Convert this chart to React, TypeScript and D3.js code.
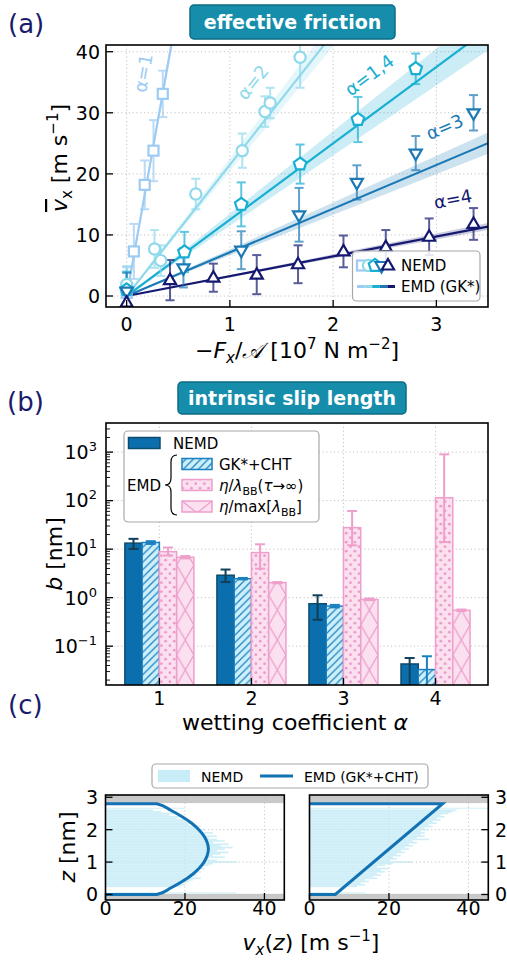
import React from 'react';
import * as d3 from 'd3';

// ---------------- Panel (a) data ----------------
const seriesNames = ['α=1', 'α=2', 'α=1,4', 'α=3', 'α=4'];
const seriesColors = ['#9dcbf3', '#8fd9eb', '#19afd3', '#1b79b5', '#141870'];
const seriesMarkers = ['square', 'circle', 'pentagon', 'tridown', 'triup'];
const emdSlopes = [95, 21.5, 12.5, 7.15, 3.25];
const emdBands = [0.03, 0.05, 0.08, 0.07, 0.05];
const labelAtX = [0.158, 1.22, 2.35, 3.08, 3.16];
const labelAtY = [36.5, 35.0, 36.2, 27.7, 15.9];

const a1X = [0, 0.07, 0.175, 0.26, 0.35];
const a1Y = [0.5, 7.3, 18.2, 23.8, 33.1];
const a1E = [4.2, 4.5, 4.0, 5.0, 3.8];
const a2X = [0, 0.27, 0.33, 0.67, 1.12, 1.34, 1.39, 1.68];
const a2Y = [1.9, 7.7, 5.8, 16.7, 23.8, 30.2, 31.6, 39.1];
const a2E = [3.0, 3.1, 2.5, 2.5, 2.8, 2.5, 2.5, 5.0];
const a14X = [0, 0.56, 1.11, 1.68, 2.24, 2.8];
const a14Y = [1.0, 7.2, 15.0, 21.6, 28.9, 37.2];
const a14E = [3.0, 3.3, 3.6, 3.2, 3.7, 2.5];
const a3X = [0, 0.55, 1.11, 1.67, 2.23, 2.8, 3.36];
const a3Y = [0.8, 4.6, 7.5, 13.3, 18.6, 23.4, 30.0];
const a3E = [3.0, 3.2, 3.1, 4.4, 2.8, 2.8, 2.9];
const a4X = [0, 0.42, 0.84, 1.26, 1.66, 2.1, 2.51, 2.93, 3.36];
const a4Y = [-1.1, 2.6, 3.0, 3.5, 5.2, 7.3, 8.0, 9.7, 11.8];
const a4E = [1.5, 3.3, 2.3, 3.2, 3.1, 2.6, 2.8, 3.0, 2.6];
const aXTicks = [0, 1, 2, 3];
const aYTicks = [0, 10, 20, 30, 40];

// ---------------- Panel (b) data ----------------
const alphaCats = [1, 2, 3, 4];
const bNemd = [13.3, 2.9, 0.75, 0.043];
const bNemdLo = [10.1, 2.1, 0.35, 0.012];
const bNemdHi = [16.3, 3.8, 1.12, 0.057];
const bGk = [13.7, 2.46, 0.67, 0.033];
const bGkLo = [12.8, 2.38, 0.63, 0.012];
const bGkHi = [14.6, 2.55, 0.71, 0.062];
const bLam = [8.9, 8.5, 27.8, 115];
const bLamLo = [7.4, 3.96, 12, 14];
const bLamHi = [10.8, 12.6, 61, 900];
const bMax = [6.8, 2.04, 0.92, 0.55];
const bMaxLo = [6.45, 1.98, 0.89, 0.53];
const bMaxHi = [7.2, 2.1, 0.96, 0.57];
const bYExp = [-1, 0, 1, 2, 3];

// ---------------- Panel (c) data ----------------
const nemdZ = [0.25, 0.30, 0.35, 0.40, 0.45, 0.50, 0.55, 0.60, 0.65, 0.70, 0.75, 0.80, 0.85, 0.90, 0.95, 1.00,
  1.05, 1.10, 1.15, 1.20, 1.25, 1.30, 1.35, 1.40, 1.45, 1.50, 1.55, 1.60, 1.65, 1.70, 1.75, 1.80,
  1.85, 1.90, 1.95, 2.00, 2.05, 2.10, 2.15, 2.20, 2.25, 2.30, 2.35, 2.40, 2.45, 2.50, 2.55, 2.60];
const nemdLeft = [19, 20, 18, 21, 22, 24, 20, 23, 22, 24, 23, 25, 24, 26, 27, 33,
  28, 26, 30, 27, 29, 31, 28, 30, 32, 29, 31, 27, 30, 28, 26, 28,
  25, 27, 24, 25, 23, 24, 21, 22, 20, 21, 18, 19, 16, 17, 14, 12];
const nemdRight = [12, 14, 13, 15, 14, 17, 16, 18, 17, 19, 18, 20, 17, 19, 21, 26,
  20, 22, 21, 23, 22, 24, 23, 25, 24, 26, 25, 27, 26, 30, 27, 29,
  28, 29, 28, 30, 29, 31, 30, 32, 31, 33, 32, 34, 33, 35, 36, 37];
const wallStripZ = [0.05, 2.66];
const wallStripLeft = [33, 20];
const wallStripRight = [14, 45];
const emdLeftZ = [0, 0, 0.2, 0.4, 0.6, 0.8, 1.0, 1.2, 1.4, 1.6, 1.8, 2.0, 2.2, 2.4, 2.6, 2.8, 2.8];
const emdLeftV = [0, 12.9, 16.4, 19.3, 21.7, 23.5, 24.8, 25.6, 25.9, 25.6, 24.8, 23.5, 21.7, 19.3, 16.4, 12.9, 0];
const emdRightZ = [0, 0, 2.8, 2.8];
const emdRightV = [0, 6.5, 33.5, 0];
const cXTicks = [0, 20, 40];
const cZTicks = [0, 1, 2, 3];

const FONT = 'DejaVu Sans, Liberation Sans, sans-serif';
const NAVY = '#1b1b6b';
const TEAL = '#168eab';

function polyPath(cx: number, cy: number, r: number, n: number, rot: number) {
  const pts = d3.range(n).map((i) => {
    const a = rot + (i * 2 * Math.PI) / n;
    return [cx + r * Math.cos(a), cy + r * Math.sin(a)];
  });
  return 'M' + pts.map((p) => p[0].toFixed(2) + ',' + p[1].toFixed(2)).join('L') + 'Z';
}

function Marker({ type, x, y, color }: any) {
  const sw = 2.2;
  if (type === 'square') return <rect x={x - 5} y={y - 5} width={10} height={10} fill="#fff" stroke={color} strokeWidth={sw} />;
  if (type === 'circle') return <circle cx={x} cy={y} r={5.6} fill="#fff" stroke={color} strokeWidth={sw} />;
  if (type === 'pentagon') return <path d={polyPath(x, y, 6.6, 5, -Math.PI / 2)} fill="#fff" stroke={color} strokeWidth={sw} />;
  if (type === 'tridown') return <path d={polyPath(x, y, 7, 3, Math.PI / 2)} fill="#fff" stroke={color} strokeWidth={sw} />;
  return <path d={polyPath(x, y + 0.5, 7, 3, -Math.PI / 2)} fill="#fff" stroke={color} strokeWidth={sw} />;
}

const gridStyle = { stroke: '#bdbdbd', strokeWidth: 0.9, strokeDasharray: '1.2,2.6' };

export default function App() {
  // ---------- scales ----------
  const xA = d3.scaleLinear().domain([-0.2, 3.5]).range([106, 488]);
  const yA = d3.scaleLinear().domain([-1.8, 41.1]).range([307, 45]);
  const xB = d3.scaleLinear().domain([0.42, 4.57]).range([106, 488]);
  const yB = d3.scaleLog().domain([Math.pow(10, -1.8), Math.pow(10, 3.6)]).range([685, 423]);
  const xC1 = d3.scaleLinear().domain([0, 45]).range([105.5, 284.3]);
  const xC2 = d3.scaleLinear().domain([0, 45]).range([309.5, 488.3]);
  const yC = d3.scaleLinear().domain([-0.17, 3.07]).range([900, 795]);

  const seriesX = [a1X, a2X, a14X, a3X, a4X];
  const seriesY = [a1Y, a2Y, a14Y, a3Y, a4Y];
  const seriesE = [a1E, a2E, a14E, a3E, a4E];

  const tickFs = 19;
  const labelFs = 22;

  // ---------- panel b bars ----------
  const bw = 0.1875;
  const bwPx = xB(bw) - xB(0);
  const barSeries = [
    { vals: bNemd, lo: bNemdLo, hi: bNemdHi, off: -1.5, kind: 'nemd' },
    { vals: bGk, lo: bGkLo, hi: bGkHi, off: -0.5, kind: 'gk' },
    { vals: bLam, lo: bLamLo, hi: bLamHi, off: 0.5, kind: 'lam' },
    { vals: bMax, lo: bMaxLo, hi: bMaxHi, off: 1.5, kind: 'max' },
  ];
  const bBottom = yB.range()[0];

  const minorB: number[] = [];
  for (let d = -2; d <= 3; d++) for (let k = 2; k <= 9; k++) {
    const v = k * Math.pow(10, d);
    if (v >= yB.domain()[0] && v <= yB.domain()[1]) minorB.push(v);
  }

  const lineC = d3.line<[number, number]>();

  return (
    <svg width={507} height={961} style={{ position: 'absolute', left: 0, top: 0, background: '#fff' }} fontFamily={FONT}>
      <defs>
        <clipPath id="clipA"><rect x={106} y={45} width={382} height={262} /></clipPath>
        <clipPath id="clipB"><rect x={106} y={423} width={382} height={262} /></clipPath>
        <clipPath id="clipC1"><rect x={105.5} y={795} width={178.8} height={105} /></clipPath>
        <clipPath id="clipC2"><rect x={309.5} y={795} width={178.8} height={105} /></clipPath>
        <pattern id="hatch" patternUnits="userSpaceOnUse" width={7.5} height={7.5}>
          <path d="M-1,8.5L8.5,-1M-1,1L1,-1M6.5,8.5L8.5,6.5" stroke="#1a80c0" strokeWidth={1.2} />
        </pattern>
        <pattern id="dots" patternUnits="userSpaceOnUse" width={8.6} height={9}>
          <circle cx={2.2} cy={2.2} r={1.35} fill="#ec97c7" />
          <circle cx={6.5} cy={6.7} r={1.35} fill="#ec97c7" />
        </pattern>
        {alphaCats.map((c, i) => {
          const x0 = xB(c + 1.5 * bw) - bwPx / 2;
          return (
            <pattern key={i} id={`cross${i}`} patternUnits="userSpaceOnUse" x={x0} y={bBottom} width={bwPx} height={30}>
              <path d={`M0,0L${bwPx},30M${bwPx},0L0,30`} stroke="#ec9fcc" strokeWidth={1.3} fill="none" />
            </pattern>
          );
        })}
        <pattern id="crossLeg" patternUnits="userSpaceOnUse" x={182} y={501} width={30} height={24}>
          <path d="M0,0L30,24M30,0L0,24" stroke="#ec9fcc" strokeWidth={1.3} fill="none" />
        </pattern>
      </defs>

      {/* ================= Panel (a) ================= */}
      <text x={8} y={33} fontSize={26} fill={NAVY}>(a)</text>
      <rect x={190} y={5} width={205} height={34} rx={4} fill={TEAL} stroke="#0d6b84" strokeWidth={1.5} />
      <text x={292.5} y={29} textAnchor="middle" fontSize={19} fontWeight="bold" fill="#fff">effective friction</text>

      {aXTicks.map((t) => <line key={'ga' + t} x1={xA(t)} x2={xA(t)} y1={45} y2={307} {...gridStyle} />)}
      {aYTicks.map((t) => <line key={'gy' + t} x1={106} x2={488} y1={yA(t)} y2={yA(t)} {...gridStyle} />)}

      <g clipPath="url(#clipA)">
        {emdSlopes.map((s, i) => (
          <path key={'band' + i}
            d={`M${xA(0)},${yA(0)}L${xA(3.5)},${yA(s * (1 + emdBands[i]) * 3.5)}L${xA(3.5)},${yA(s * (1 - emdBands[i]) * 3.5)}Z`}
            fill={seriesColors[i]} opacity={0.22} />
        ))}
        {emdSlopes.map((s, i) => (
          <line key={'emd' + i} x1={xA(0)} y1={yA(0)} x2={xA(3.5)} y2={yA(s * 3.5)} stroke={seriesColors[i]} strokeWidth={2.2} />
        ))}
        {seriesX.map((xs, i) => xs.map((xv, j) => {
          const px = xA(xv);
          const y1 = yA(seriesY[i][j] - seriesE[i][j]);
          const y2 = yA(seriesY[i][j] + seriesE[i][j]);
          return (
            <g key={`eb${i}-${j}`} stroke={seriesColors[i]} strokeWidth={2} opacity={0.7}>
              <line x1={px} x2={px} y1={y1} y2={y2} />
              <line x1={px - 4.5} x2={px + 4.5} y1={y1} y2={y1} />
              <line x1={px - 4.5} x2={px + 4.5} y1={y2} y2={y2} />
            </g>
          );
        }))}
        {seriesX.map((xs, i) => xs.map((xv, j) => (
          <Marker key={`m${i}-${j}`} type={seriesMarkers[i]} x={xA(xv)} y={yA(seriesY[i][j])} color={seriesColors[i]} />
        )))}
      </g>

      {seriesNames.map((n, i) => {
        const ang = -Math.atan((emdSlopes[i] * (yA(0) - yA(1))) / (xA(1) - xA(0))) * 180 / Math.PI;
        return (
          <text key={'lab' + i} x={0} y={0} fontSize={18} fill={seriesColors[i]} textAnchor="middle" dominantBaseline="central"
            transform={`translate(${xA(labelAtX[i])},${yA(labelAtY[i])}) rotate(${ang})`}>{n}</text>
        );
      })}

      {/* legend a */}
      <rect x={352.5} y={251} width={127.5} height={50} rx={4} fill="#fff" fillOpacity={0.85} stroke="#a8a8a8" strokeWidth={1.2} />
      {seriesMarkers.map((m, i) => (
        <Marker key={'lm' + i} type={m} x={362 + i * 6.5} y={265.5} color={seriesColors[i]} />
      ))}
      <text x={401} y={270.5} fontSize={15}>NEMD</text>
      {seriesColors.map((c, i) => (
        <line key={'ll' + i} x1={357 + i * 7.6} x2={357 + (i + 1) * 7.6} y1={286.5} y2={286.5} stroke={c} strokeWidth={3} />
      ))}
      <text x={401} y={292} fontSize={15}>EMD (GK*)</text>

      {/* axes a */}
      {aYTicks.map((t) => (
        <g key={'ya' + t}>
          <line x1={106} x2={113} y1={yA(t)} y2={yA(t)} stroke="#000" strokeWidth={1.3} />
          <text x={100} y={yA(t)} dy="0.36em" textAnchor="end" fontSize={tickFs}>{t}</text>
        </g>
      ))}
      {aXTicks.map((t) => (
        <g key={'xa' + t}>
          <line x1={xA(t)} x2={xA(t)} y1={307} y2={300} stroke="#000" strokeWidth={1.3} />
          <text x={xA(t)} y={331} textAnchor="middle" fontSize={tickFs}>{t}</text>
        </g>
      ))}
      <rect x={106} y={45} width={382} height={262} fill="none" stroke="#000" strokeWidth={1.6} />
      <text transform="translate(67,158) rotate(-90)" textAnchor="middle" fontSize={labelFs}>
        <tspan fontStyle="italic" style={{ textDecoration: 'overline' }}>v</tspan><tspan dy={5} fontSize={15}>x</tspan><tspan dy={-5}> [m s</tspan><tspan dy={-9} fontSize={15}>−1</tspan><tspan dy={9}>]</tspan>
      </text>
      <text x={297} y={358} textAnchor="middle" fontSize={labelFs}>
        −<tspan fontStyle="italic">F</tspan><tspan dy={5} fontSize={15} fontStyle="italic">x</tspan><tspan dy={-5}>/</tspan><tspan fontStyle="italic">𝒜</tspan> [10<tspan dy={-9} fontSize={15}>7</tspan><tspan dy={9}> N m</tspan><tspan dy={-9} fontSize={15}>−2</tspan><tspan dy={9}>]</tspan>
      </text>

      {/* ================= Panel (b) ================= */}
      <text x={7} y={411} fontSize={26} fill={NAVY}>(b)</text>
      <rect x={178} y={382} width={228} height={32} rx={4} fill={TEAL} stroke="#0d6b84" strokeWidth={1.5} />
      <text x={292} y={405} textAnchor="middle" fontSize={19} fontWeight="bold" fill="#fff">intrinsic slip length</text>

      {alphaCats.map((c) => <line key={'gbx' + c} x1={xB(c)} x2={xB(c)} y1={423} y2={685} {...gridStyle} />)}
      {bYExp.map((e) => <line key={'gby' + e} x1={106} x2={488} y1={yB(Math.pow(10, e))} y2={yB(Math.pow(10, e))} {...gridStyle} />)}

      <g clipPath="url(#clipB)">
        {barSeries.map((s, si) => s.vals.map((v, i) => {
          const xc = xB(alphaCats[i] + s.off * bw);
          const x0 = xc - bwPx / 2;
          const yt = yB(v);
          const h = bBottom - yt;
          if (s.kind === 'nemd') return <rect key={`b${si}-${i}`} x={x0} y={yt} width={bwPx} height={h + 2} fill="#0b6ead" stroke="#0c4c70" strokeWidth={1.5} />;
          if (s.kind === 'gk') return (
            <g key={`b${si}-${i}`}>
              <rect x={x0} y={yt} width={bwPx} height={h + 2} fill="#cdeffa" />
              <rect x={x0} y={yt} width={bwPx} height={h + 2} fill="url(#hatch)" stroke="#1a80c0" strokeWidth={1.5} />
            </g>
          );
          return (
            <g key={`b${si}-${i}`}>
              <rect x={x0} y={yt} width={bwPx} height={h + 2} fill="#fbe0ef" />
              <rect x={x0} y={yt} width={bwPx} height={h + 2} fill={s.kind === 'lam' ? 'url(#dots)' : `url(#cross${i})`} stroke="#ee9fcc" strokeWidth={1.5} />
            </g>
          );
        }))}
        {barSeries.map((s, si) => s.vals.map((v, i) => {
          const xc = xB(alphaCats[i] + s.off * bw);
          const col = s.kind === 'nemd' ? '#123f58' : s.kind === 'gk' ? '#1a80c0' : '#ee9fcc';
          const y1 = yB(s.lo[i]);
          const y2 = yB(s.hi[i]);
          return (
            <g key={`be${si}-${i}`} stroke={col} strokeWidth={2}>
              <line x1={xc} x2={xc} y1={y1} y2={y2} />
              <line x1={xc - 5} x2={xc + 5} y1={y1} y2={y1} />
              <line x1={xc - 5} x2={xc + 5} y1={y2} y2={y2} />
            </g>
          );
        }))}
      </g>

      {/* legend b */}
      <rect x={124} y={431} width={195} height={91} rx={4} fill="#fff" fillOpacity={0.9} stroke="#a8a8a8" strokeWidth={1.2} />
      <rect x={128.5} y={437.5} width={31.5} height={11} fill="#0b6ead" stroke="#0c4c70" strokeWidth={1.5} />
      <text x={173} y={449} fontSize={15}>NEMD</text>
      <text x={127} y={491} fontSize={15}>EMD</text>
      <path d="M177,455 Q171,455 171,462 L171,478 Q171,485 165,485 Q171,485 171,492 L171,508 Q171,515 177,515" fill="none" stroke="#000" strokeWidth={1.2} />
      <rect x={182} y={458.5} width={30} height={11} fill="#cdeffa" />
      <rect x={182} y={458.5} width={30} height={11} fill="url(#hatch)" stroke="#1a80c0" strokeWidth={1.5} />
      <text x={219} y={470} fontSize={15}>GK*+CHT</text>
      <rect x={182} y={479.5} width={30} height={11} fill="#fbe0ef" />
      <rect x={182} y={479.5} width={30} height={11} fill="url(#dots)" stroke="#ee9fcc" strokeWidth={1.5} />
      <text x={219} y={491} fontSize={15}>
        <tspan fontStyle="italic">η</tspan>/<tspan fontStyle="italic">λ</tspan><tspan dy={4} fontSize={11}>BB</tspan><tspan dy={-4}>(</tspan><tspan fontStyle="italic">τ</tspan>→∞)
      </text>
      <rect x={182} y={501} width={30} height={11} fill="#fbe0ef" />
      <rect x={182} y={501} width={30} height={11} fill="url(#crossLeg)" stroke="#ee9fcc" strokeWidth={1.5} />
      <text x={219} y={512} fontSize={15}>
        <tspan fontStyle="italic">η</tspan>/max[<tspan fontStyle="italic">λ</tspan><tspan dy={4} fontSize={11}>BB</tspan><tspan dy={-4}>]</tspan>
      </text>

      {/* axes b */}
      {bYExp.map((e) => (
        <g key={'yb' + e}>
          <line x1={106} x2={113} y1={yB(Math.pow(10, e))} y2={yB(Math.pow(10, e))} stroke="#000" strokeWidth={1.3} />
          <text x={97} y={yB(Math.pow(10, e))} dy="0.36em" textAnchor="end" fontSize={tickFs}>10<tspan dy={-8} fontSize={13}>{e < 0 ? '−' + Math.abs(e) : String(e)}</tspan></text>
        </g>
      ))}
      {minorB.map((v, i) => (
        <line key={'mb' + i} x1={106} x2={110} y1={yB(v)} y2={yB(v)} stroke="#000" strokeWidth={0.9} />
      ))}
      {alphaCats.map((c) => (
        <g key={'xb' + c}>
          <line x1={xB(c)} x2={xB(c)} y1={685} y2={678} stroke="#000" strokeWidth={1.3} />
          <text x={xB(c)} y={705} textAnchor="middle" fontSize={tickFs}>{c}</text>
        </g>
      ))}
      <rect x={106} y={423} width={382} height={262} fill="none" stroke="#000" strokeWidth={1.6} />
      <text transform="translate(62,554) rotate(-90)" textAnchor="middle" fontSize={labelFs}>
        <tspan fontStyle="italic">b</tspan> [nm]
      </text>
      <text x={295} y={730} textAnchor="middle" fontSize={labelFs}>wetting coefficient <tspan fontStyle="italic">α</tspan></text>

      {/* ================= Panel (c) ================= */}
      <text x={8} y={714} fontSize={26} fill={NAVY}>(c)</text>
      <rect x={152} y={764} width={276} height={24} rx={4} fill="#fff" stroke="#a8a8a8" strokeWidth={1.2} />
      <rect x={158} y={770} width={32} height={12} fill="#c8edf8" />
      <text x={201} y={781.5} fontSize={14}>NEMD</text>
      <line x1={260} x2={293} y1={776} y2={776} stroke="#1372b3" strokeWidth={3} />
      <text x={304} y={781.5} fontSize={14}>EMD (GK*+CHT)</text>

      {[{ x: xC1, nemd: nemdLeft, strip: wallStripLeft, ez: emdLeftZ, ev: emdLeftV, clip: 'clipC1', right: false },
        { x: xC2, nemd: nemdRight, strip: wallStripRight, ez: emdRightZ, ev: emdRightV, clip: 'clipC2', right: true }].map((p, pi) => {
        const [l, r] = p.x.range();
        return (
          <g key={'pc' + pi}>
            <g clipPath={`url(#${p.clip})`}>
              <rect x={l} y={yC(3.07)} width={r - l} height={yC(2.82) - yC(3.07)} fill="#c9c9c9" />
              <rect x={l} y={yC(0.02)} width={r - l} height={yC(-0.17) - yC(0.02)} fill="#c9c9c9" />
              {cXTicks.slice(1).map((t) => <line key={'gcx' + t} x1={p.x(t)} x2={p.x(t)} y1={795} y2={900} {...gridStyle} />)}
              {cZTicks.map((t) => <line key={'gcz' + t} x1={l} x2={r} y1={yC(t)} y2={yC(t)} {...gridStyle} />)}
              {nemdZ.map((z, i) => (
                <rect key={'h' + i} x={l} y={yC(z + 0.025)} width={p.x(p.nemd[i]) - l} height={yC(z - 0.025) - yC(z + 0.025)} fill="#c2eaf6" opacity={0.8} />
              ))}
              {wallStripZ.map((z, i) => (
                <rect key={'ws' + i} x={l} y={yC(z + 0.02)} width={p.x(p.strip[i]) - l} height={yC(z - 0.02) - yC(z + 0.02)} fill="#c2eaf6" opacity={0.6} />
              ))}
              <path d={(pi === 0 ? lineC.curve(d3.curveMonotoneY) : lineC.curve(d3.curveLinear))(p.ez.map((z, i) => [p.x(p.ev[i]), yC(z)]) as any) || ''}
                fill="none" stroke="#1372b3" strokeWidth={3} />
            </g>
            {cXTicks.map((t) => (
              <g key={'xc' + t}>
                <line x1={p.x(t)} x2={p.x(t)} y1={900} y2={893} stroke="#000" strokeWidth={1.3} />
                <text x={p.x(t)} y={915} textAnchor="middle" fontSize={tickFs}>{t}</text>
              </g>
            ))}
            {cZTicks.map((t) => (
              <g key={'zc' + t}>
                {p.right
                  ? <line x1={r} x2={r - 7} y1={yC(t)} y2={yC(t)} stroke="#000" strokeWidth={1.3} />
                  : <line x1={l} x2={l + 7} y1={yC(t)} y2={yC(t)} stroke="#000" strokeWidth={1.3} />}
                {p.right
                  ? <text x={495} y={yC(t)} dy="0.36em" textAnchor="start" fontSize={tickFs}>{t}</text>
                  : <text x={98} y={yC(t)} dy="0.36em" textAnchor="end" fontSize={tickFs}>{t}</text>}
              </g>
            ))}
            <rect x={l} y={795} width={r - l} height={105} fill="none" stroke="#000" strokeWidth={1.6} />
          </g>
        );
      })}
      <text transform="translate(75,847) rotate(-90)" textAnchor="middle" fontSize={labelFs}>
        <tspan fontStyle="italic">z</tspan> [nm]
      </text>
      <text x={311} y={950} textAnchor="middle" fontSize={labelFs}>
        <tspan fontStyle="italic">v</tspan><tspan dy={5} fontSize={15} fontStyle="italic">x</tspan><tspan dy={-5}>(</tspan><tspan fontStyle="italic">z</tspan>) [m s<tspan dy={-9} fontSize={15}>−1</tspan><tspan dy={9}>]</tspan>
      </text>
    </svg>
  );
}
